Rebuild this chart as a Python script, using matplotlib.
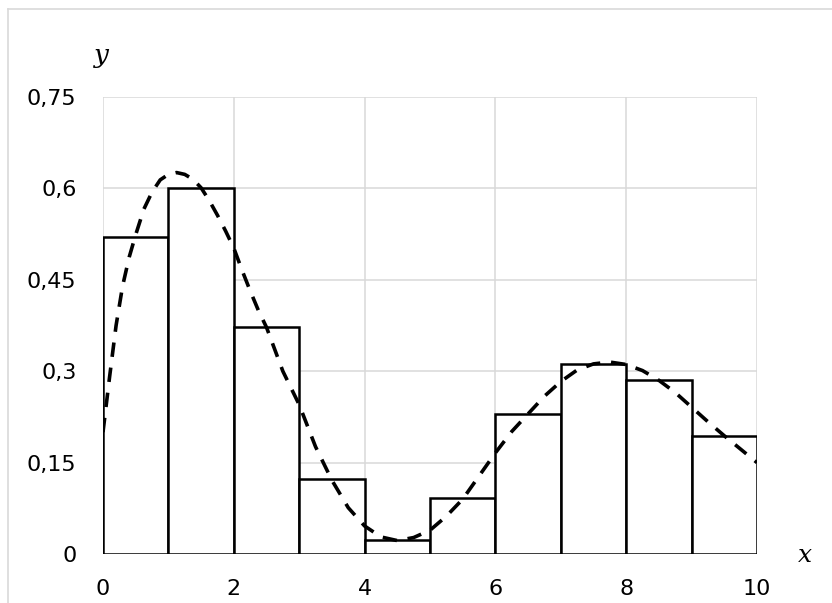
import matplotlib.pyplot as plt
from matplotlib.lines import Line2D

# histogram bars (interval left edges, heights)
bin_left = [0, 1, 2, 3, 4, 5, 6, 7, 8, 9]
bin_height = [0.521, 0.601, 0.372, 0.123, 0.023, 0.092, 0.229, 0.312, 0.285, 0.194]

# dashed density curve
curve_x = [0, 0.1, 0.2, 0.3, 0.4, 0.5, 0.625, 0.75, 0.875, 1.0, 1.125, 1.25,
           1.375, 1.5, 1.625, 1.75, 1.875, 2.0, 2.125, 2.25, 2.375, 2.5, 2.75,
           3.0, 3.25, 3.5, 3.75, 4.0, 4.25, 4.5, 4.75, 5.0, 5.25, 5.5, 5.75,
           6.0, 6.25, 6.5, 6.75, 7.0, 7.25, 7.5, 7.75, 8.0, 8.25, 8.5, 8.75,
           9.0, 9.25, 9.5, 9.75, 10.0]
curve_y = [0.200, 0.290, 0.375, 0.440, 0.487, 0.524, 0.566, 0.594, 0.614, 0.623,
           0.626, 0.623, 0.615, 0.601, 0.580, 0.556, 0.530, 0.502, 0.466, 0.432,
           0.400, 0.372, 0.300, 0.245, 0.176, 0.121, 0.076, 0.046, 0.028, 0.022,
           0.027, 0.039, 0.062, 0.090, 0.128, 0.166, 0.201, 0.230, 0.259, 0.283,
           0.302, 0.312, 0.315, 0.311, 0.301, 0.285, 0.265, 0.241, 0.217, 0.194,
           0.172, 0.150]

x_ticks = [0, 2, 4, 6, 8, 10]
y_ticks = [0, 0.15, 0.3, 0.45, 0.6, 0.75]
y_labels = ['0', '0,15', '0,3', '0,45', '0,6', '0,75']

fig = plt.figure(figsize=(8.32, 6.03), dpi=100)
ax = fig.add_axes([103 / 832, 1 - 554 / 603, 654 / 832, 457 / 603])

# chart area border (light gray), only top and left edges are in view
bx, by = 8 / 832, 1 - 9 / 603
fig.add_artist(Line2D([bx, 1], [by, by], transform=fig.transFigure,
                      color='#d9d9d9', linewidth=1.2))
fig.add_artist(Line2D([bx, bx], [0, by], transform=fig.transFigure,
                      color='#d9d9d9', linewidth=1.2))

ax.bar(bin_left, bin_height, width=1, align='edge', facecolor='white',
       edgecolor='black', linewidth=1.8, zorder=2)
ax.plot(curve_x, curve_y, color='black', linewidth=2.6,
        linestyle=(0, (4, 3)), zorder=3)

ax.set_xlim(0, 10)
ax.set_ylim(0, 0.75)
ax.set_xticks(x_ticks)
ax.set_xticklabels([str(t) for t in x_ticks])
ax.set_yticks(y_ticks)
ax.set_yticklabels(y_labels)
ax.tick_params(length=0, labelsize=16)
ax.tick_params(axis='x', pad=18)
ax.tick_params(axis='y', pad=19)
ax.grid(True, color='#d9d9d9', linewidth=1.1, zorder=0)
ax.set_axisbelow(True)
for s in ax.spines.values():
    s.set_visible(False)

fig.text(101 / 832, 1 - 56 / 603, 'y', fontsize=19, style='italic',
         family='DejaVu Serif', ha='center', va='center')
fig.text(805 / 832, 1 - 555 / 603, 'x', fontsize=18, style='italic',
         family='DejaVu Serif', ha='center', va='center')

fig.savefig('out.png', dpi=100, facecolor='white')
